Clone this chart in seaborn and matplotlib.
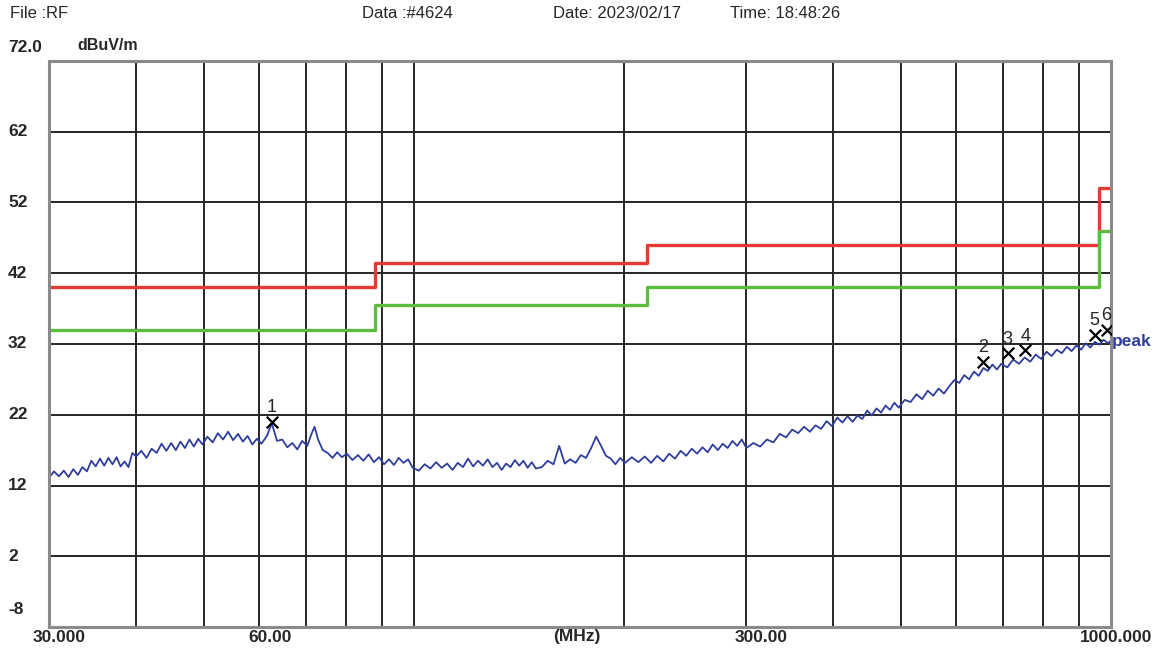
import matplotlib
matplotlib.use("Agg")
import matplotlib.pyplot as plt
import matplotlib.transforms as mtransforms
import seaborn as sns
import numpy as np

freq = [30.0, 30.5, 31.0, 31.5, 32.0, 32.5, 33.0, 33.5, 34.0, 34.5, 35.0, 35.5, 36.0, 36.5, 37.0, 37.5, 38.0, 38.5, 39.0, 39.5, 40.0,
        40.7, 41.4, 42.1, 42.8, 43.5, 44.2, 44.9, 45.6, 46.3, 47.0, 47.7, 48.4, 49.1, 49.8,
        50.6, 51.5, 52.4, 53.3, 54.2, 55.1, 56.0, 56.9, 57.8, 58.7, 59.6,
        60.5, 61.6, 62.6, 63.7, 64.8, 65.9, 67.0, 68.1, 69.2,
        70.4, 71.3, 72.1, 73.0, 74.1, 75.3, 76.5, 77.7, 78.9,
        80.2, 81.7, 83.2, 84.7, 86.2, 87.7, 89.2, 90.7, 92.2, 93.7, 95.2, 96.7, 98.2, 99.7,
        101.7, 103.7, 105.7, 107.7, 109.7, 111.7, 113.7, 115.7, 117.7, 119.7, 121.7, 123.7, 125.7,
        127.7, 129.7, 131.7, 133.7, 135.7, 137.7, 139.7, 141.7, 143.7, 145.7, 147.7, 149.7,
        152.7, 155.7, 158.7, 161.7, 164.7, 167.7, 170.7, 173.7, 176.7, 179.7, 182.7, 185.7, 188.7, 191.7, 194.7, 197.7,
        201, 205.5, 210, 214.5, 219, 223.5, 228, 232.5, 237, 241.5, 246, 250.5, 255, 259.5, 264, 268.5, 273, 277.5,
        282, 286.5, 291, 295.5,
        300, 307, 314, 321, 328, 335, 342, 349, 356, 363, 370, 377, 384, 391, 398, 405, 412, 419, 426, 433,
        440, 447, 454, 461, 468, 475, 482, 489, 496,
        506, 516, 526, 536, 546, 556, 566, 576, 586, 596, 606, 616, 626, 636, 646, 656, 666, 676, 686, 696,
        710, 724, 738, 752, 766, 780, 794, 808, 822, 836, 850, 864, 878, 892, 906, 920, 934, 948, 962, 976, 990, 1000]
level = [13.1, 14.0, 13.3, 14.1, 13.2, 14.3, 13.5, 14.6, 14.0, 15.5, 14.7, 15.8, 14.8, 15.9, 15.0, 16.0, 14.7, 15.4, 14.6, 16.6, 16.1,
         16.9, 15.9, 17.2, 16.6, 17.9, 16.9, 18.0, 17.0, 18.2, 17.3, 18.5, 17.5, 18.6, 17.8,
         18.9, 18.1, 19.4, 18.5, 19.6, 18.4, 19.3, 18.2, 19.0, 17.8, 18.6,
         17.9, 19.0, 20.8, 18.3, 18.5, 17.4, 18.0, 17.1, 18.3,
         17.6, 19.2, 20.3, 18.4, 17.0, 16.6, 15.9, 16.7, 16.0,
         16.5, 15.6, 16.3, 15.5, 16.4, 15.3, 16.0, 15.0, 15.7, 14.9, 15.9, 15.2, 15.7, 14.5,
         14.1, 15.0, 14.4, 15.3, 14.5, 15.1, 14.2, 15.2, 14.6, 15.8, 14.7, 15.5, 14.8,
         15.7, 14.6, 15.2, 14.2, 15.1, 14.6, 15.6, 14.8, 15.5, 14.5, 15.3, 14.4,
         14.6, 15.5, 15.0, 17.6, 15.1, 15.7, 15.2, 16.3, 15.9, 17.3, 18.9, 17.6, 16.2, 15.8, 15.0, 15.9,
         15.2, 16.0, 15.3, 16.1, 15.2, 16.2, 15.4, 16.5, 15.8, 16.9, 16.2, 17.2, 16.5, 17.4, 16.7, 17.8, 17.0, 17.9,
         17.3, 18.3, 17.6, 18.5,
         17.3, 18.0, 17.5, 18.5, 18.1, 19.3, 18.8, 19.9, 19.4, 20.3, 19.6, 20.5, 20.0, 21.1, 20.4, 21.6, 20.9, 21.8, 21.0, 21.9,
         21.4, 22.6, 21.9, 22.9, 22.3, 23.3, 22.7, 23.7, 23.0,
         24.1, 23.8, 24.9, 24.2, 25.4, 24.7, 25.7, 25.0, 26.0, 26.9, 26.5, 27.6, 27.0, 28.1, 27.5, 28.6, 28.2, 29.1, 28.4, 29.2,
         28.7, 29.8, 29.2, 30.1, 29.5, 30.5, 29.9, 30.9, 30.3, 31.2, 30.7, 31.6, 31.0, 31.8, 31.2, 32.1, 31.5, 32.3, 31.9, 32.6, 32.1, 32.5]

# limit lines (step at each listed frequency)
limit_freq = [30, 88, 216, 960, 1000]
limit_red = [40.0, 43.5, 46.0, 54.0, 54.0]
limit_green = [34.0, 37.5, 40.0, 48.0, 48.0]

# marked peaks
mark_no = ["1", "2", "3", "4", "5", "6"]
mark_freq = [62.6, 655.8, 710.6, 754.0, 947.0, 985.6]
mark_level = [21.0, 29.5, 30.7, 31.1, 33.3, 34.0]

grid_freq = [30, 40, 50, 60, 70, 80, 90, 100, 200, 300, 400, 500, 600, 700, 800, 900, 1000]
grid_level = [2, 12, 22, 32, 42, 52, 62]
x_labels = {30: ("30.000", 10), 60: ("60.00", 11), 300: ("300.00", 15), 1000: ("1000.000", 5)}

sns.set_style("white")
plt.rcParams["font.family"] = ["Liberation Sans", "DejaVu Sans"]

fig = plt.figure(figsize=(11.6, 6.53), dpi=100)
ax = fig.add_axes([49 / 1160, 1 - 627 / 653, 1062 / 1160, 566 / 653])

ax.set_xscale("log")
ax.set_xlim(30, 1000)
ax.set_ylim(-8, 72)

ax.set_xticks(grid_freq)
ax.set_xticks([], minor=True)
ax.set_yticks(grid_level)
ax.set_xticklabels([])
ax.set_yticklabels([])
ax.tick_params(length=0)
ax.grid(True, color="#262626", linewidth=1.4)
for sp in ax.spines.values():
    sp.set_color("#8a8a8a")
    sp.set_linewidth(2.2)

sns.lineplot(x=limit_freq, y=limit_red, drawstyle="steps-post", color="#e53a32",
             linewidth=2.4, ax=ax, estimator=None, sort=False)
sns.lineplot(x=limit_freq, y=limit_green, drawstyle="steps-post", color="#5cbd3c",
             linewidth=2.4, ax=ax, estimator=None, sort=False)
sns.lineplot(x=freq, y=level, color="#2f3e9e", linewidth=1.3, ax=ax,
             estimator=None, sort=False)
sns.scatterplot(x=mark_freq, y=mark_level, marker="x", s=70, color="black",
                linewidth=1.6, ax=ax, zorder=5)
for n, f, v in zip(mark_no, mark_freq, mark_level):
    ax.annotate(n, (f, v), xytext=(0, 10), textcoords="offset points",
                ha="center", va="center", fontsize=13)

# x axis labels
for f, (txt, dx) in x_labels.items():
    ax.annotate(txt, (f, 0), xycoords=("data", "axes fraction"), xytext=(dx * 0.72, -7.5),
                textcoords="offset points", ha="center", va="center",
                fontsize=12.5, fontweight="bold", annotation_clip=False)
fig.text(577 / 1160, 1 - 637 / 653, "(MHz)", ha="center", va="center",
         fontsize=12.5, fontweight="bold")

# y axis labels
trans = mtransforms.blended_transform_factory(fig.transFigure, ax.transData)
for v in grid_level:
    ax.text(8 / 1160, v, str(v), transform=trans, ha="left", va="center",
            fontsize=12.5, fontweight="bold")
fig.text(8 / 1160, 1 - 47 / 653, "72.0", ha="left", va="center", fontsize=12.5, fontweight="bold")
fig.text(8 / 1160, 1 - 609 / 653, "-8", ha="left", va="center", fontsize=12.5, fontweight="bold")
fig.text(77 / 1160, 1 - 46 / 653, "dBuV/m", ha="left", va="center", fontsize=11.5, fontweight="bold")

fig.text(1112 / 1160, 1 - 342 / 653, "peak", ha="left", va="center", color="#2f3e9e",
         fontsize=12.5, fontweight="bold")

# header
fig.text(10 / 1160, 1 - 13 / 653, "File :RF", ha="left", va="center", fontsize=12)
fig.text(362 / 1160, 1 - 13 / 653, "Data :#4624", ha="left", va="center", fontsize=12)
fig.text(553 / 1160, 1 - 13 / 653, "Date: 2023/02/17", ha="left", va="center", fontsize=12)
fig.text(730 / 1160, 1 - 13 / 653, "Time: 18:48:26", ha="left", va="center", fontsize=12)

fig.savefig("out.png", dpi=100)
